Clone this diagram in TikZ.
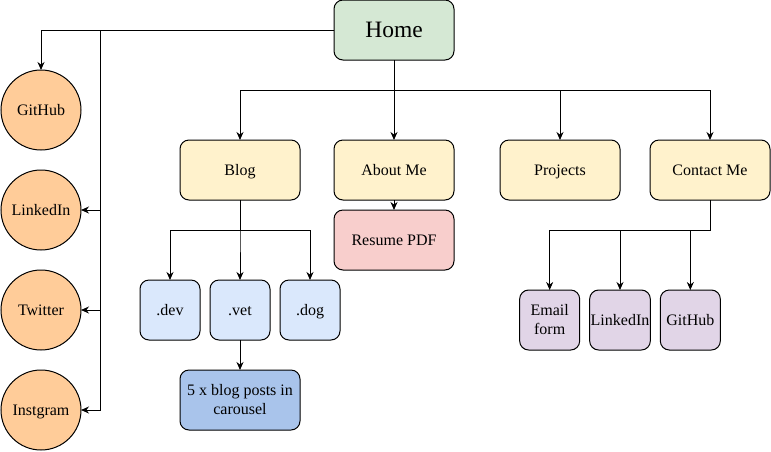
\documentclass[tikz,border=0pt]{standalone}
\usepackage{fontspec}
\setmainfont{Liberation Serif}
\usepackage{xcolor}
\usepackage{tikz}
\usetikzlibrary{shapes.geometric, arrows.meta, positioning}
\definecolor{homegreen}{HTML}{D5E8D4}
\definecolor{pageyellow}{HTML}{FFF2CC}
\definecolor{pdfpink}{HTML}{F8CECC}
\definecolor{sitesblue}{HTML}{DAE8FC}
\definecolor{postsblue}{HTML}{A9C4EB}
\definecolor{linkpurple}{HTML}{E1D5E7}
\definecolor{socialorange}{HTML}{FFCC99}
\tikzstyle{box} = [rectangle, rounded corners=9pt, minimum width=120pt, minimum height=60pt, outer sep=0pt, inner sep=1pt, text centered, draw=black, line width=1pt, fill=pageyellow, font=\fontsize{16}{19}\selectfont]
\tikzstyle{page} = [box, text height=11pt, text depth=0pt]
\tikzstyle{site} = [page, minimum width=60pt, fill=sitesblue]
\tikzstyle{link} = [box, minimum width=60pt, fill=linkpurple, align=center]
\tikzstyle{social} = [circle, minimum size=80pt, inner sep=0pt, outer sep=0pt, text centered, draw=black, line width=1pt, fill=socialorange, font=\fontsize{16}{19}\selectfont, text height=11pt, text depth=0pt]
\tikzstyle{arrow} = [line width=1pt, ->, >={Stealth[length=8pt,width=7pt]}]

\begin{document}
\begin{tikzpicture}[x=1pt, y=-1pt]
    \useasboundingbox (0,0) rectangle (771,451);
    % Nodes
    \node (home) [page, fill=homegreen, font=\fontsize{23.5}{28}\selectfont, text height=15.5pt] at (394,30) {Home};
    \node (about) [page, below=80pt of home] {About Me};
    \node (blog) [page, left=34pt of about] {Blog};
    \node (projects) [page, right=46pt of about] {Projects};
    \node (contact) [page, right=30pt of projects] {Contact Me};
    \node (resume) [page, fill=pdfpink, below=10pt of about] {Resume PDF};
    \node (vet) [site, below=80pt of blog] {.vet};
    \node (dev) [site, left=10pt of vet] {.dev};
    \node (dog) [site, right=10pt of vet] {.dog};
    \node (posts) [box, fill=postsblue, align=center, below=30pt of vet] {5 x blog posts in\\carousel};
    \node (linkedin2) [link, below=90pt of contact, xshift=-90pt] {LinkedIn};
    \node (email) [link, left=10pt of linkedin2] {Email\\form};
    \node (github2) [link, right=10pt of linkedin2] {GitHub};
    \node (github) [social] at (41,110) {GitHub};
    \node (linkedin) [social, below=20pt of github] {LinkedIn};
    \node (twitter) [social, below=20pt of linkedin] {Twitter};
    \node (instgram) [social, below=20pt of twitter] {Instgram};
    % Arrows
    \draw [arrow] (home.west) -| (github.north);
    \foreach \s in {linkedin, twitter, instgram}
        \draw [arrow] (home.west) -| ([xshift=19pt]\s.east) -- (\s.east);
    \draw [arrow] (home.south) -- (about.north);
    \foreach \p in {blog, projects, contact}
        \draw [arrow] (home.south) |- ([yshift=50pt]\p.north) -- (\p.north);
    \draw [arrow] (about.south) -- (resume.north);
    \foreach \d in {dev, vet, dog}
        \draw [arrow] (blog.south) |- ([yshift=50pt]\d.north) -- (\d.north);
    \draw [arrow] (vet.south) -- (posts.north);
    \foreach \c in {email, linkedin2, github2}
        \draw [arrow] (contact.south) |- ([yshift=60pt]\c.north) -- (\c.north);
\end{tikzpicture}
\end{document}
